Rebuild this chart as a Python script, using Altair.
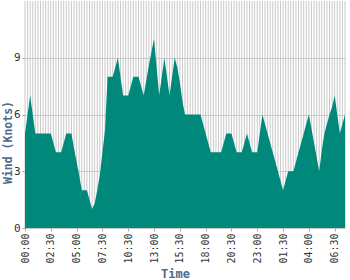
import altair as alt
import pandas as pd

times = [
    "00:00", "00:15", "00:30", "00:45", "01:00", "01:15", "01:30", "01:45", "02:00", "02:15",
    "02:30", "02:45", "03:00", "03:15", "03:30", "03:45", "04:00", "04:15", "04:30", "04:45",
    "05:00", "05:15", "05:30", "05:45", "06:00", "06:15", "06:30", "06:45", "07:00", "07:15",
    "07:30", "07:45", "08:00", "08:15", "08:30", "09:15", "09:30", "09:45", "10:00", "10:15",
    "10:30", "10:45", "11:00", "11:15", "11:30", "11:45", "12:00", "12:15", "12:30", "12:45",
    "13:00", "13:15", "13:30", "13:45", "14:00", "14:15", "14:30", "14:45", "15:00", "15:15",
    "15:30", "15:45", "16:00", "16:15", "16:30", "16:45", "17:00", "17:15", "17:30", "17:45",
    "18:00", "18:15", "18:30", "18:45", "19:00", "19:15", "19:30", "19:45", "20:00", "20:15",
    "20:30", "20:45", "21:00", "21:15", "21:30", "21:45", "22:00", "22:15", "22:30", "22:45",
    "23:00", "23:15", "23:30", "23:45", "00:00", "00:15", "00:30", "00:45", "01:00", "01:15",
    "01:30", "01:45", "02:00", "02:15", "02:30", "02:45", "03:00", "03:15", "03:30", "03:45",
    "04:00", "04:15", "04:30", "04:45", "05:00", "05:15", "05:30", "05:45", "06:00", "06:15",
    "06:30", "06:45", "07:00", "07:15", "07:30",
]

wind = [
    5, 6, 7, 6, 5, 5, 5, 5, 5, 5,
    5, 4.5, 4, 4, 4, 4.5, 5, 5, 5, 4.2,
    3.5, 2.8, 2, 2, 2, 1.5, 1, 1.3, 2, 2.8,
    4, 5.2, 8, 8, 8, 8.5, 9, 8, 7, 7,
    7, 7.5, 8, 8, 8, 7.5, 7, 7.8, 8.6, 9.3,
    10, 8.5, 7, 8, 9, 8, 7, 8, 9, 8.5,
    7.7, 6.7, 6, 6, 6, 6, 6, 6, 6, 5.5,
    5, 4.5, 4, 4, 4, 4, 4, 4.5, 5, 5,
    5, 4.5, 4, 4, 4, 4.5, 5, 4.5, 4, 4,
    4, 5, 6, 5.5, 5, 4.5, 4, 3.5, 3, 2.5,
    2, 2.5, 3, 3, 3, 3.5, 4, 4.5, 5, 5.5,
    6, 5.25, 4.5, 3.75, 3, 4.1, 5, 5.5, 6, 6.4,
    7, 6, 5, 5.5, 6,
]

y_ticks = [0, 3, 6, 9]
label_every = 10

df = pd.DataFrame({"i": list(range(len(times))), "time": times, "wind": wind})

shown = times[::label_every]
label_expr = "[" + ",".join("'%s'" % t for t in shown) + "][floor(datum.value / %d)]" % label_every

FONT = "DejaVu Sans Mono"
TITLE_COLOR = "#4a6a8e"

x_scale = alt.Scale(domain=[0, len(times) - 1], nice=False, zero=False)
y_scale = alt.Scale(domain=[0, 12], nice=False)

x_axis = alt.Axis(
    values=list(range(0, len(times), label_every)),
    labelExpr=label_expr,
    labelAngle=270,
    labelFont=FONT,
    labelFontSize=10,
    labelColor="#333333",
    labelPadding=2,
    tickSize=3,
    tickColor="#aaaaaa",
    domain=False,
    grid=False,
    titleFont=FONT,
    titleFontSize=12,
    titleFontWeight="bold",
    titleColor=TITLE_COLOR,
    titleX=150,
    titleY=49,
    titleBaseline="alphabetic",
    titleAnchor="middle",
    labelFlush=False,
    labelOverlap=False,
)

x_enc = alt.X("i:Q", scale=x_scale, title="Time", axis=x_axis)

grid = alt.Chart(df).mark_rule(color="#c8c8c8", strokeWidth=1).encode(x=x_enc)

area = alt.Chart(df).mark_area(color="#00897b", opacity=1, interpolate="linear").encode(
    x=x_enc,
    y=alt.Y(
        "wind:Q",
        scale=y_scale,
        title="Wind (Knots)",
        axis=alt.Axis(
            values=y_ticks,
            labelFont=FONT,
            labelFontSize=11,
            labelColor="#333333",
            labelPadding=2,
            tickSize=3,
            tickColor="#999999",
            domain=False,
            grid=True,
            gridColor="#c8c8c8",
            gridWidth=1,
            titleFont=FONT,
            titleFontSize=11.5,
            titleFontWeight="bold",
            titleColor=TITLE_COLOR,
            titleX=-17,
            titleY=141,
            titleAngle=270,
            titleBaseline="middle",
            titleAlign="center",
            labelFlush=False,
        ),
    ),
)

chart = (
    alt.layer(grid, area)
    .properties(
        width=320,
        height=227,
        autosize=alt.AutoSizeParams(type="none"),
        padding={"left": 25, "top": 1, "right": 5, "bottom": 52},
        background="white",
    )
    .configure_view(stroke=None)
)

chart.save("out.html", embed_options={"renderer": "svg", "actions": False})
